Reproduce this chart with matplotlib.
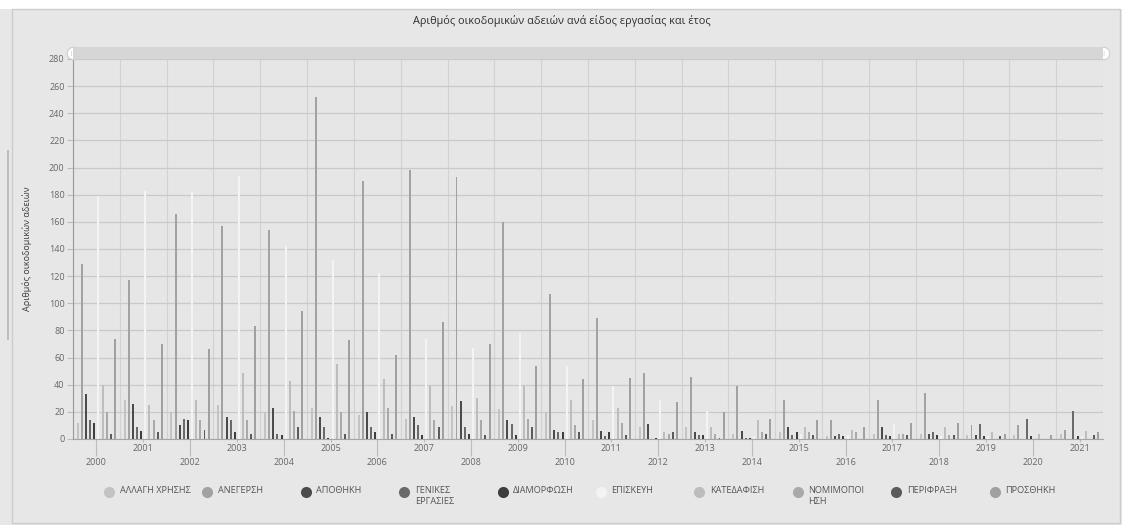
import numpy as np
import matplotlib
matplotlib.use("Agg")
import matplotlib.pyplot as plt
from matplotlib.patches import Rectangle

plt.rcParams['font.family'] = ['Open Sans', 'DejaVu Sans']

# data
years = list(range(2000, 2022))
categories = ['ΑΛΛΑΓΗ ΧΡΗΣΗΣ', 'ΑΝΕΓΕΡΣΗ', 'ΑΠΟΘΗΚΗ', 'ΓΕΝΙΚΕΣ\nΕΡΓΑΣΙΕΣ', 'ΔΙΑΜΟΡΦΩΣΗ',
              'ΕΠΙΣΚΕΥΗ', 'ΚΑΤΕΔΑΦΙΣΗ', 'ΝΟΜΙΜΟΠΟΙ\nΗΣΗ', 'ΠΕΡΙΦΡΑΞΗ', 'ΠΡΟΣΘΗΚΗ']
allagi = [12, 29, 20, 25, 20, 23, 18, 15, 24, 22, 20, 14, 9, 9, 4, 5, 2, 4, 4, 3, 3, 4]
anegersi = [129, 117, 166, 157, 154, 252, 190, 198, 193, 160, 107, 89, 49, 46, 39, 29, 14, 29, 34, 10, 10, 7]
apothiki = [33, 26, 10, 16, 23, 16, 20, 16, 28, 14, 7, 6, 11, 5, 6, 9, 2, 9, 4, 3, 0, 0]
genikes = [14, 9, 15, 14, 4, 9, 9, 10, 9, 11, 5, 2, 0, 3, 1, 3, 4, 3, 5, 11, 15, 21]
diamorfosi = [12, 6, 14, 5, 3, 1, 5, 3, 4, 3, 5, 5, 1, 3, 1, 5, 2, 2, 3, 2, 2, 2]
episkevi = [179, 183, 182, 194, 142, 132, 122, 74, 67, 78, 54, 39, 29, 21, 2, 4, 3, 11, 2, 2, 0, 2]
katedafisi = [40, 25, 29, 49, 43, 55, 44, 39, 30, 39, 29, 23, 5, 9, 14, 9, 7, 4, 9, 5, 4, 6]
nomimopoiisi = [20, 14, 14, 14, 21, 20, 23, 14, 14, 15, 10, 12, 4, 4, 5, 5, 5, 4, 3, 0, 0, 0]
perifraxi = [4, 5, 7, 4, 9, 4, 4, 9, 3, 9, 5, 3, 5, 1, 4, 3, 0, 3, 3, 2, 0, 3]
prosthiki = [74, 70, 66, 83, 94, 73, 62, 86, 70, 54, 44, 45, 27, 20, 15, 14, 9, 12, 12, 4, 3, 5]

series = [allagi, anegersi, apothiki, genikes, diamorfosi,
          episkevi, katedafisi, nomimopoiisi, perifraxi, prosthiki]
colors = ['#c3c3c3', '#a2a2a2', '#4b4b4b', '#6a6a6a', '#3e3e3e',
          '#f3f3f3', '#bdbdbd', '#a9a9a9', '#5b5b5b', '#a0a0a0']

W, H = 1122, 525
fig = plt.figure(figsize=(W / 100, H / 100), dpi=100)
fig.patch.set_facecolor('#e7e7e7')

# panel frame / white strip at the top
fig.patches.append(Rectangle((0, 516 / H), 1, 9 / H, transform=fig.transFigure,
                             facecolor='white', edgecolor='none', zorder=0))
fig.patches.append(Rectangle((12 / W, 2 / H), 1108 / W, 514 / H, transform=fig.transFigure,
                             facecolor='none', edgecolor='#cdcdcd', lw=1, zorder=1))
fig.patches.append(Rectangle((7 / W, 185 / H), 1.5 / W, 190 / H, transform=fig.transFigure,
                             facecolor='#bdbdbd', edgecolor='none', zorder=1))

ax = fig.add_axes([73 / W, 86 / H, 1030 / W, 380 / H])
ax.set_facecolor('#e6e6e6')

x = np.arange(len(years))
step = 0.0883
for j, (vals, c) in enumerate(zip(series, colors)):
    ax.bar(x + (j - 4.5) * step, vals, width=0.042, color=c, zorder=3, linewidth=0)

ax.set_xlim(-0.5, len(years) - 0.5)
ax.set_ylim(0, 280)
ax.set_yticks(range(0, 281, 20))
ax.tick_params(axis='y', labelsize=6.5, labelcolor='#666666', color='#bcbcbc',
               length=4, width=0.8, pad=2)
ax.grid(axis='y', color='#c9c9c9', lw=0.9, zorder=1)

ax.set_xticks(np.arange(-0.5, len(years), 1), minor=True)
ax.grid(axis='x', which='minor', color='#d2d2d2', lw=0.8, zorder=1)
ax.tick_params(axis='x', which='minor', length=0)

even = [i for i, y in enumerate(years) if y % 2 == 0]
odd = [i for i, y in enumerate(years) if y % 2 == 1]
ax.set_xticks(even)
ax.set_xticklabels([str(years[i]) for i in even])
ax.tick_params(axis='x', which='major', labelsize=6.5, labelcolor='#666666',
               color='#bcbcbc', length=12.5, width=0.8, pad=1.5)
sec = ax.secondary_xaxis('bottom')
sec.set_xticks(odd)
sec.set_xticklabels([str(years[i]) for i in odd])
sec.tick_params(axis='x', labelsize=6.5, labelcolor='#666666', color='#bcbcbc',
                length=2, width=0.8, pad=1.5)
sec.spines['bottom'].set_visible(False)

for s in ['top', 'right']:
    ax.spines[s].set_visible(False)
ax.spines['left'].set_color('#9a9a9a')
ax.spines['bottom'].set_color('#a5a5a5')
ax.spines['left'].set_zorder(4)

ax.set_ylabel('Αριθμός οικοδομικών αδειών', fontsize=6.5, color='#3a3a3a', labelpad=12)

fig.text(562 / W, 1 - 21 / H, 'Αριθμός οικοδομικών αδειών ανά είδος εργασίας και έτος',
         ha='center', va='center', fontsize=7.8, color='#2e2e2e')

# range slider at the top
fig.patches.append(Rectangle((73 / W, 1 - 59 / H), 1030 / W, 12 / H, transform=fig.transFigure,
                             facecolor='#d6d6d6', edgecolor='none', zorder=1))
lax = fig.add_axes([0, 0, 1, 1], facecolor='none')
lax.set_axis_off()
for px in (73, 1103):
    lax.plot([px / W], [1 - 53 / H], marker='o', markersize=9, markerfacecolor='white',
             markeredgecolor='#cccccc', markeredgewidth=0.8, transform=fig.transFigure)
    lax.text(px / W, 1 - 53 / H, '||', ha='center', va='center', fontsize=4.5,
             color='#aaaaaa', transform=fig.transFigure)

# legend
for i, (name, c) in enumerate(zip(categories, colors)):
    cx = (109 + 98.4 * i) / W
    lax.plot([cx], [1 - 492 / H], marker='o', markersize=8, markerfacecolor=c,
             markeredgecolor='none', transform=fig.transFigure)
    lax.text(cx + 10.5 / W, 1 - 486 / H, name, ha='left', va='top', fontsize=6.6,
             color='#555555', linespacing=1.25, transform=fig.transFigure)
lax.set_xlim(0, 1)
lax.set_ylim(0, 1)

fig.savefig('out.png', dpi=100, facecolor=fig.get_facecolor())
